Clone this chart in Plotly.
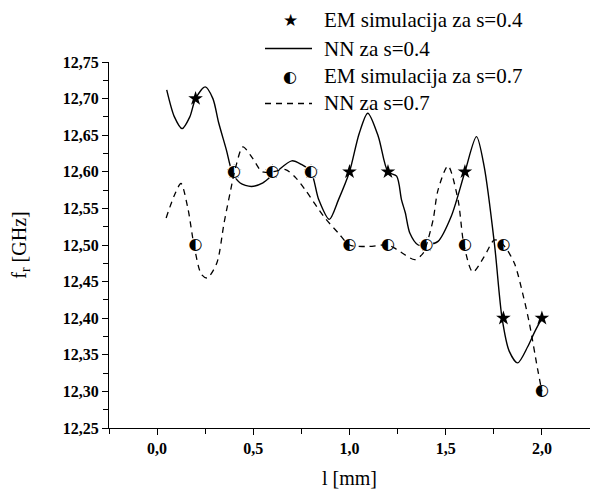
import plotly.graph_objects as go

# EM simulation points
l_em = [0.2, 0.4, 0.6, 0.8, 1.0, 1.2, 1.4, 1.6, 1.8, 2.0]
f_em_s04 = [12.70, 12.60, 12.60, 12.60, 12.60, 12.60, 12.50, 12.60, 12.40, 12.40]
f_em_s07 = [12.50, 12.60, 12.60, 12.60, 12.50, 12.50, 12.50, 12.50, 12.50, 12.30]

# Neural network response, s=0.4
l_nn_s04 = [0.05, 0.09, 0.13, 0.17, 0.20, 0.25, 0.29, 0.32, 0.36, 0.39, 0.43, 0.49,
            0.55, 0.62, 0.70, 0.75, 0.80, 0.84, 0.895, 0.943, 1.00, 1.05, 1.095,
            1.15, 1.20, 1.245, 1.27, 1.29, 1.314, 1.357, 1.40, 1.46, 1.53, 1.60,
            1.66, 1.70, 1.754, 1.793, 1.83, 1.874, 1.926, 1.96, 2.00]
f_nn_s04 = [12.712, 12.675, 12.659, 12.675, 12.700, 12.716, 12.700, 12.667, 12.630,
            12.600, 12.585, 12.580, 12.585, 12.600, 12.615, 12.610, 12.600, 12.562,
            12.535, 12.562, 12.600, 12.652, 12.680, 12.648, 12.600, 12.594, 12.562,
            12.544, 12.516, 12.500, 12.500, 12.505, 12.540, 12.600, 12.648, 12.607,
            12.500, 12.400, 12.355, 12.339, 12.361, 12.380, 12.400]

# Neural network response, s=0.7
l_nn_s07 = [0.047, 0.09, 0.124, 0.16, 0.193, 0.23, 0.26, 0.31, 0.348, 0.383, 0.409,
            0.446, 0.495, 0.546, 0.60, 0.667, 0.72, 0.771, 0.866, 0.943, 1.00, 1.098,
            1.20, 1.245, 1.34, 1.383, 1.40, 1.435, 1.46, 1.512, 1.564, 1.595, 1.641,
            1.70, 1.754, 1.80, 1.857, 1.90, 1.935, 1.978, 2.00]
f_nn_s07 = [12.537, 12.568, 12.584, 12.550, 12.498, 12.460, 12.455, 12.475, 12.530,
            12.576, 12.607, 12.634, 12.619, 12.600, 12.600, 12.603, 12.592, 12.575,
            12.539, 12.516, 12.500, 12.498, 12.500, 12.494, 12.480, 12.489, 12.500,
            12.535, 12.575, 12.608, 12.562, 12.500, 12.463, 12.484, 12.507, 12.500,
            12.475, 12.434, 12.393, 12.330, 12.300]

legend_labels = ["EM simulacija za s=0.4", "NN za s=0.4",
                 "EM simulacija za s=0.7", "NN za s=0.7"]

serif = "Liberation Serif"
glyph_font = "DejaVu Sans"

# figure geometry (px) used to place the hand-built legend in paper coordinates
W, H = 590, 492
M_L, M_R, M_T, M_B = 109, 0, 62, 64
PW, PH = W - M_L - M_R, H - M_T - M_B


def px_to_paper(px, py):
    return (px - M_L) / PW, (H - M_B - py) / PH


fig = go.Figure()

fig.add_trace(go.Scatter(
    x=l_em, y=f_em_s04, mode="markers", name=legend_labels[0],
    marker=dict(symbol="star", size=11, color="black", line=dict(width=0)),
))
fig.add_trace(go.Scatter(
    x=l_nn_s04, y=f_nn_s04, mode="lines", name=legend_labels[1],
    line=dict(color="black", width=1.4, shape="spline", smoothing=0.8),
))
# white discs under the half-filled circle glyphs
fig.add_trace(go.Scatter(
    x=l_em, y=f_em_s07, mode="markers", name=legend_labels[2],
    marker=dict(symbol="circle", size=14, color="white", line=dict(width=0)),
))
fig.add_trace(go.Scatter(
    x=l_nn_s07, y=f_nn_s07, mode="lines", name=legend_labels[3],
    line=dict(color="black", width=1.3, dash="6px,5px", shape="spline", smoothing=0.8),
))
fig.add_trace(go.Scatter(
    x=l_em, y=f_em_s07, mode="text", text=["◐"] * len(l_em), name=legend_labels[2],
    textposition="middle center",
    textfont=dict(family=glyph_font, size=16, color="black"),
))

# legend: symbol column at x~290, text column from x~322, rows ~27.7 px apart
row_y = [20, 48.5, 76, 103.5]
sym_x, line_x0, line_x1, text_x = 290, 265, 312, 322
for label, ry in zip(legend_labels, row_y):
    tx, ty = px_to_paper(text_x, ry)
    fig.add_annotation(xref="paper", yref="paper", x=tx, y=ty, text=label,
                       showarrow=False, xanchor="left", yanchor="middle",
                       font=dict(family=serif, size=21, color="black"))

for glyph, ry, size in [("★", row_y[0], 17), ("◐", row_y[2], 16)]:
    gx, gy = px_to_paper(sym_x, ry)
    fig.add_annotation(xref="paper", yref="paper", x=gx, y=gy, text=glyph,
                       showarrow=False, xanchor="center", yanchor="middle",
                       font=dict(family=glyph_font, size=size, color="black"))

for ry, dash in [(row_y[1], "solid"), (row_y[3], "6px,5px")]:
    x0, y0 = px_to_paper(line_x0, ry)
    x1, _ = px_to_paper(line_x1, ry)
    fig.add_shape(type="line", xref="paper", yref="paper", x0=x0, x1=x1, y0=y0, y1=y0,
                  line=dict(color="black", width=1.4, dash=dash))

fig.update_layout(
    template="none",
    width=W, height=H,
    margin=dict(l=M_L, r=M_R, t=M_T, b=M_B),
    paper_bgcolor="white", plot_bgcolor="white",
    separators=", ",
    showlegend=False,
    font=dict(family=serif, size=16, color="black"),
)

fig.update_xaxes(
    range=[-0.25, 2.25], tick0=0, dtick=0.5, tickformat=".1f",
    showline=True, linecolor="black", linewidth=1, showgrid=False, zeroline=False,
    ticks="outside", ticklen=6, tickcolor="black",
    minor=dict(dtick=0.25, ticks="outside", ticklen=5, tickcolor="black", showgrid=False),
    tickfont=dict(family=serif, size=16, color="black", weight="bold"),
    title=dict(text="l [mm]", font=dict(family=serif, size=20, color="black"), standoff=14),
)
fig.update_yaxes(
    range=[12.25, 12.75], tick0=12.25, dtick=0.05, tickformat=".2f",
    showline=True, linecolor="black", linewidth=1, showgrid=False, zeroline=False,
    ticks="outside", ticklen=6, tickcolor="black",
    minor=dict(dtick=0.025, ticks="outside", ticklen=5, tickcolor="black", showgrid=False),
    tickfont=dict(family=serif, size=16, color="black", weight="bold"),
    title=dict(text="f<sub>r</sub> [GHz]", font=dict(family=serif, size=20, color="black"),
               standoff=30),
)

fig.write_html("out.html")
